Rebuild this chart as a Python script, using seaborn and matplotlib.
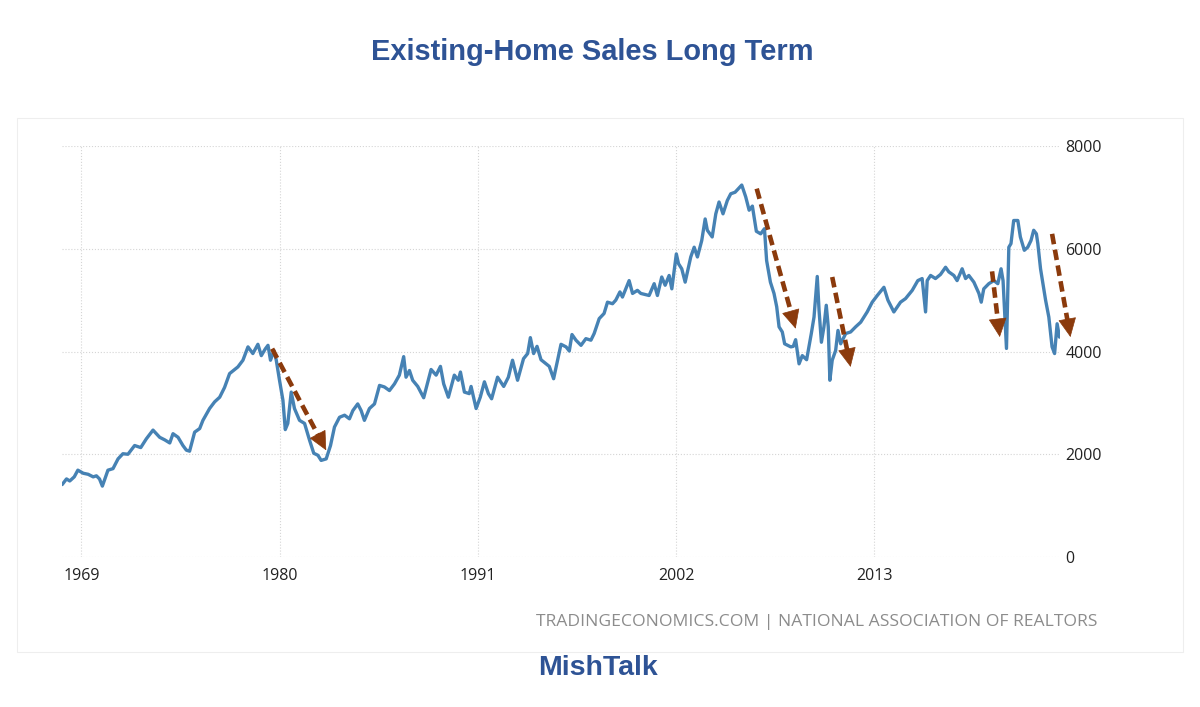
#!/usr/bin/env python3

# import libraries
import numpy as np
import matplotlib
matplotlib.use('Agg')
import matplotlib.pyplot as plt
from matplotlib.patches import Rectangle
import pandas as pd
import seaborn as sns

# existing home sales, thousands (SAAR)
years = [
    1967.93, 1968.17, 1968.35, 1968.60, 1968.80, 1969.10, 1969.37, 1969.65, 1969.83, 1970.00,
    1970.16, 1970.47, 1970.75, 1971.03, 1971.30, 1971.58, 1971.95, 1972.29, 1972.60, 1972.97,
    1973.34, 1973.62, 1973.90, 1974.08, 1974.36, 1974.63, 1974.82, 1975.00, 1975.28, 1975.56,
    1975.74, 1976.11, 1976.39, 1976.67, 1976.94, 1977.22, 1977.50, 1977.68, 1977.96, 1978.24,
    1978.51, 1978.79, 1978.98, 1979.20, 1979.35, 1979.49, 1979.68, 1979.81, 1979.99, 1980.18,
    1980.31, 1980.45, 1980.64, 1980.82, 1981.10, 1981.38, 1981.66, 1981.89, 1982.12, 1982.30,
    1982.58, 1982.82, 1983.04, 1983.32, 1983.60, 1983.87, 1984.06, 1984.33, 1984.52, 1984.70,
    1984.98, 1985.26, 1985.54, 1985.81, 1986.09, 1986.37, 1986.64, 1986.88, 1987.01, 1987.20,
    1987.38, 1987.66, 1987.99, 1988.40, 1988.68, 1988.92, 1989.10, 1989.36, 1989.69, 1989.91,
    1990.03, 1990.25, 1990.52, 1990.62, 1990.90, 1991.13, 1991.36, 1991.58, 1991.76, 1992.09,
    1992.43, 1992.69, 1992.92, 1993.20, 1993.53, 1993.76, 1993.91, 1994.09, 1994.28, 1994.50,
    1994.78, 1994.96, 1995.20, 1995.42, 1995.61, 1995.89, 1996.07, 1996.22, 1996.44, 1996.72,
    1996.99, 1997.27, 1997.45, 1997.73, 1998.00, 1998.19, 1998.47, 1998.65, 1998.88, 1999.02,
    1999.39, 1999.58, 1999.85, 2000.04, 2000.50, 2000.78, 2000.96, 2001.20, 2001.39, 2001.61,
    2001.76, 2002.01, 2002.13, 2002.31, 2002.50, 2002.81, 2003.00, 2003.18, 2003.42, 2003.61,
    2003.73, 2004.00, 2004.20, 2004.38, 2004.60, 2004.84, 2005.03, 2005.27, 2005.64, 2005.86,
    2006.05, 2006.23, 2006.45, 2006.69, 2006.90, 2007.02, 2007.23, 2007.43, 2007.58, 2007.71,
    2007.89, 2008.02, 2008.36, 2008.50, 2008.63, 2008.82, 2009.00, 2009.24, 2009.50, 2009.65,
    2009.83, 2009.93, 2010.06, 2010.20, 2010.33, 2010.44, 2010.53, 2010.66, 2010.85, 2010.98,
    2011.13, 2011.41, 2011.68, 2011.96, 2012.24, 2012.60, 2012.88, 2013.16, 2013.53, 2013.75,
    2014.08, 2014.45, 2014.73, 2015.10, 2015.41, 2015.65, 2015.84, 2015.93, 2016.12, 2016.39,
    2016.67, 2016.95, 2017.13, 2017.41, 2017.59, 2017.87, 2018.06, 2018.24, 2018.52, 2018.80,
    2018.93, 2019.07, 2019.35, 2019.63, 2019.85, 2020.03, 2020.14, 2020.33, 2020.46, 2020.58,
    2020.73, 2020.96, 2021.10, 2021.32, 2021.51, 2021.69, 2021.84, 2021.99, 2022.07, 2022.22,
    2022.50, 2022.68, 2022.86, 2023.00, 2023.14, 2023.27,
]
sales = [
    1410, 1520, 1480, 1560, 1690, 1630, 1610, 1560, 1580, 1520,
    1380, 1690, 1720, 1910, 2010, 2000, 2170, 2130, 2300, 2470,
    2330, 2280, 2220, 2400, 2330, 2170, 2080, 2060, 2430, 2500,
    2660, 2890, 3020, 3110, 3300, 3570, 3650, 3700, 3830, 4090,
    3960, 4140, 3920, 4050, 4120, 3830, 4020, 3830, 3440, 3050,
    2480, 2600, 3210, 2890, 2660, 2600, 2270, 2020, 1980, 1880,
    1910, 2170, 2530, 2720, 2760, 2690, 2850, 2980, 2850, 2660,
    2890, 2980, 3340, 3310, 3240, 3370, 3540, 3900, 3500, 3630,
    3440, 3320, 3100, 3650, 3540, 3710, 3370, 3110, 3540, 3440,
    3600, 3210, 3180, 3320, 2890, 3110, 3410, 3180, 3080, 3500,
    3320, 3500, 3830, 3440, 3860, 3960, 4270, 3960, 4100, 3840,
    3760, 3710, 3470, 3830, 4140, 4090, 4010, 4330, 4220, 4120,
    4250, 4220, 4350, 4640, 4740, 4960, 4930, 5000, 5160, 5060,
    5380, 5130, 5190, 5130, 5090, 5320, 5090, 5450, 5290, 5480,
    5220, 5900, 5710, 5610, 5350, 5840, 6030, 5840, 6160, 6580,
    6360, 6230, 6680, 6910, 6680, 6940, 7070, 7100, 7240, 7010,
    6750, 6830, 6340, 6290, 6390, 5770, 5350, 5130, 4870, 4480,
    4380, 4150, 4090, 4100, 4230, 3760, 3920, 3840, 4350, 4670,
    5460, 4800, 4180, 4480, 4900, 4480, 3440, 3830, 4020, 4410,
    4150, 4350, 4380, 4480, 4570, 4770, 4960, 5090, 5250, 5000,
    4770, 4960, 5030, 5190, 5380, 5420, 4770, 5380, 5480, 5420,
    5500, 5640, 5550, 5480, 5380, 5610, 5420, 5480, 5350, 5130,
    4960, 5220, 5320, 5380, 5320, 5610, 5380, 4060, 6030, 6100,
    6550, 6550, 6230, 5970, 6030, 6160, 6360, 6290, 6100, 5610,
    5000, 4670, 4090, 3960, 4540, 4280,
]

# dashed arrows drawn on the chart: start and tip
arrow_start = [(1979.58, 4055), (2006.47, 7170), (2010.66, 5450), (2019.53, 5560), (2022.86, 6290)]
arrow_tip = [(1982.58, 2076), (2008.63, 4444), (2011.68, 3700), (2019.96, 4281), (2023.88, 4281)]

year_ticks = [1969, 1980, 1991, 2002, 2013]
value_ticks = [0, 2000, 4000, 6000, 8000]

df = pd.DataFrame({'year': years, 'sales': sales})

sns.set_style('white')
plt.rcParams['font.family'] = ['Open Sans', 'DejaVu Sans']

fig = plt.figure(figsize=(12, 7.07), dpi=100)
ax = fig.add_axes([62 / 1200, 150 / 707, 998 / 1200, 411 / 707])

sns.lineplot(data=df, x='year', y='sales', ax=ax, color='#4682b4', lw=2.4, sort=False)

ax.set_xlim(1967.92, 2023.3)
ax.set_ylim(0, 8000)
ax.set_xticks(year_ticks)
ax.set_xticklabels([str(y) for y in year_ticks])
ax.set_yticks(value_ticks)
ax.yaxis.tick_right()
ax.tick_params(axis='both', length=0, labelsize=11.5, colors='#222222')
ax.tick_params(axis='x', pad=8)
ax.tick_params(axis='y', pad=4)
for lab in ax.get_yticklabels():
    lab.set_horizontalalignment('left')
ax.set_xlabel('')
ax.set_ylabel('')
sns.despine(ax=ax, left=True, bottom=True, right=True, top=True)
ax.grid(True, linestyle=':', color='#d5d5d5', lw=0.8)

# brown dashed arrows: dashed shaft + solid head
brown = '#8b3a0c'
head_px = 13
for (x0, y0), (x1, y1) in zip(arrow_start, arrow_tip):
    p0 = ax.transData.transform((x0, y0))
    p1 = ax.transData.transform((x1, y1))
    u = (p1 - p0) / np.hypot(*(p1 - p0))
    base = ax.transData.inverted().transform(p1 - u * head_px)
    shaft_end = ax.transData.inverted().transform(p1 - u * (head_px - 2))
    ax.plot([x0, shaft_end[0]], [y0, shaft_end[1]], color=brown, lw=3.3,
            linestyle=(0, (2.3, 1.2)), clip_on=False, solid_capstyle='butt')
    ax.annotate('', xy=(x1, y1), xytext=(base[0], base[1]), annotation_clip=False,
                arrowprops=dict(arrowstyle='-|>,head_length=1.25,head_width=0.6',
                                mutation_scale=10, lw=0.5, color=brown,
                                shrinkA=0, shrinkB=0))

# outer faint frame
fig.patches.append(Rectangle((17 / 1200, 55 / 707), 1166 / 1200, 534 / 707,
                             transform=fig.transFigure, fill=False,
                             ec='#eeeeee', lw=0.8))

fig.text(592 / 1200, (707 - 60.5) / 707, 'Existing-Home Sales Long Term',
         ha='center', va='baseline', fontsize=20.9, fontweight='bold',
         color='#2e5395', family=['Liberation Sans', 'DejaVu Sans'])
fig.text(1097 / 1200, (707 - 622) / 707,
         'TRADINGECONOMICS.COM | NATIONAL ASSOCIATION OF REALTORS',
         ha='right', va='center', fontsize=12.6, color='#8c8c8c')
fig.text(538 / 1200, (707 - 668) / 707, 'MishTalk', ha='left', va='center',
         fontsize=20.5, fontweight='bold', color='#2e5395',
         family=['Liberation Sans', 'DejaVu Sans'])

plt.savefig('out.png', dpi=100)
plt.close()
